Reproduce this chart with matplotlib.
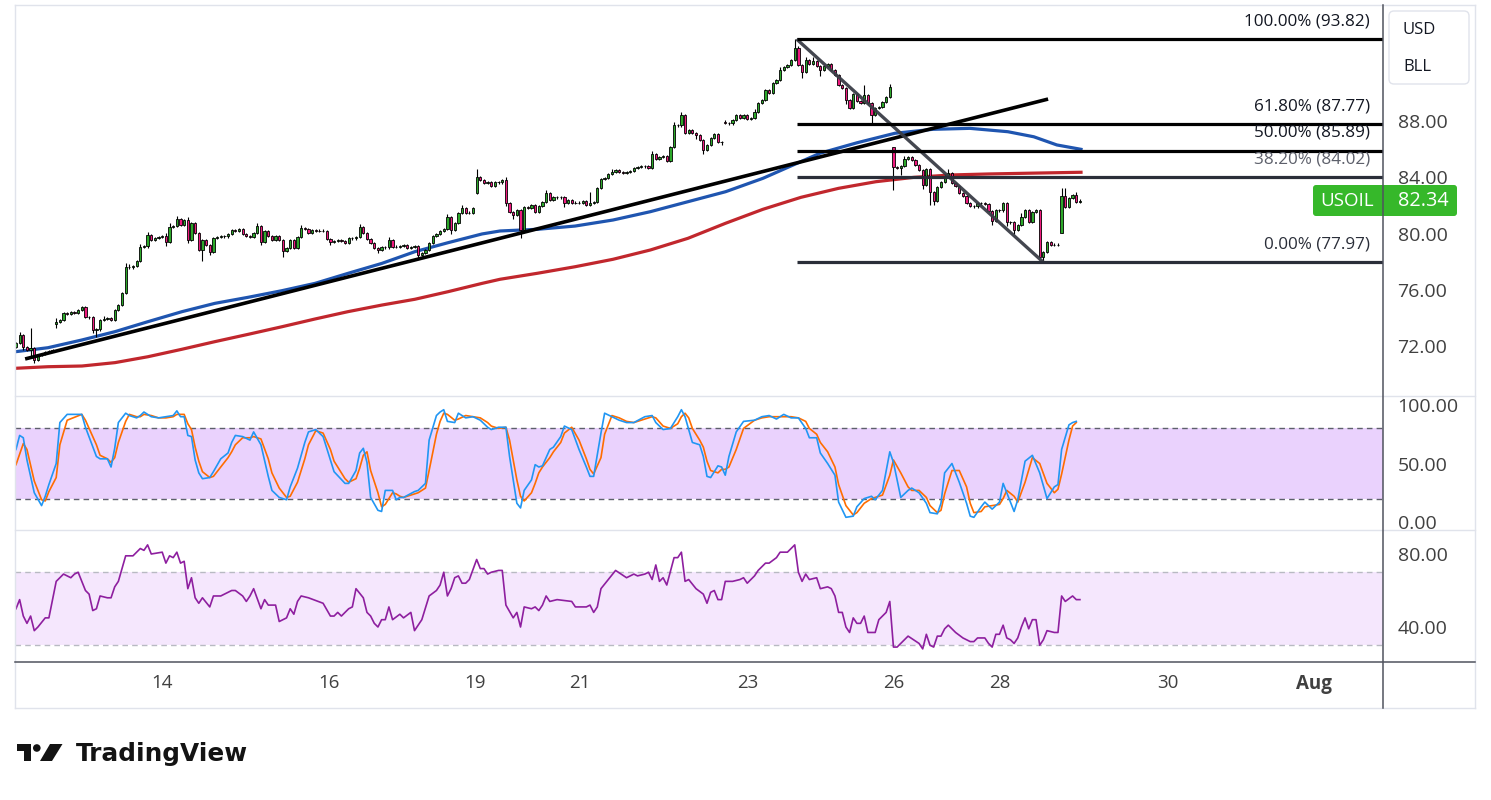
import matplotlib
matplotlib.use("Agg")
import matplotlib.pyplot as plt
from matplotlib.patches import FancyBboxPatch, Rectangle, Circle, Polygon

plt.rcParams['font.family'] = ['Open Sans', 'DejaVu Sans']

W, H = 1491, 800

# USOIL hourly closes, bar 0 .. 291
closes = [
    72.23, 72.80, 71.95, 71.74, 71.88, 71.03, 71.38, 71.45, 71.60, 71.67,
    71.74, 73.73, 73.87, 74.37, 74.30, 74.44, 74.37, 74.58, 74.79, 74.08,
    74.05, 73.16, 73.20, 73.87, 73.94, 74.01, 73.87, 74.58, 74.93, 75.79,
    77.63, 77.60, 77.70, 78.06, 79.05, 79.10, 79.90, 79.55, 79.69, 79.76,
    79.83, 79.41, 80.47, 80.54, 81.04, 80.61, 80.97, 79.55, 80.76, 80.05,
    78.84, 79.55, 79.19, 78.70, 79.69, 79.76, 79.83, 79.80, 79.98, 80.26,
    80.22, 80.33, 79.98, 79.83, 79.76, 80.05, 80.54, 79.41, 80.19, 79.83,
    79.55, 79.83, 79.55, 78.77, 78.98, 79.55, 78.98, 79.76, 80.40, 80.33,
    80.05, 80.26, 80.19, 80.22, 80.19, 79.62, 79.41, 79.48, 79.55, 79.48,
    79.34, 79.69, 79.66, 79.76, 80.47, 80.05, 79.62, 79.34, 78.98, 78.84,
    79.05, 79.02, 79.55, 79.05, 79.08, 79.12, 79.19, 78.98, 79.05, 79.12,
    78.48, 78.63, 78.84, 79.34, 79.83, 79.98, 80.19, 80.33, 81.18, 80.26,
    80.76, 81.47, 81.82, 81.47, 81.50, 81.82, 84.02, 83.81, 83.60, 83.67,
    83.38, 83.67, 83.64, 83.81, 82.18, 81.54, 81.32, 81.68, 80.26, 81.89,
    81.82, 82.03, 81.54, 81.96, 82.25, 82.89, 82.39, 82.60, 82.57, 82.60,
    82.18, 82.39, 82.18, 82.20, 82.18, 82.32, 82.03, 82.18, 82.25, 83.24,
    83.88, 83.95, 84.24, 84.38, 84.52, 84.38, 84.31, 84.38, 84.45, 84.66,
    84.73, 84.80, 84.77, 84.66, 85.66, 85.30, 85.44, 85.52, 85.16, 86.15,
    87.72, 87.70, 88.43, 87.15, 87.36, 87.15, 87.01, 86.65, 85.94, 86.30,
    86.79, 87.08, 86.51, 86.50, 87.86, 87.84, 88.07, 88.43, 88.21, 88.43,
    88.14, 88.21, 88.64, 89.28, 89.49, 90.20, 89.99, 90.70, 90.91, 91.62,
    91.84, 91.98, 92.33, 93.22, 91.98, 91.48, 92.33, 92.05, 92.26, 91.91,
    91.62, 91.91, 92.05, 91.62, 91.27, 90.56, 90.34, 89.49, 88.92, 89.92,
    89.42, 89.28, 89.85, 89.28, 88.43, 88.92, 88.99, 89.35, 89.71, 90.42,
    84.73, 84.66, 84.80, 85.30, 85.45, 85.23, 84.88, 84.52, 83.46, 84.59,
    82.96, 82.32, 83.31, 83.67, 84.02, 84.31, 83.60, 83.38, 82.89, 82.67,
    82.18, 81.96, 81.93, 82.18, 82.15, 82.11, 81.61, 80.90, 81.68, 81.65,
    82.18, 80.83, 80.80, 80.26, 80.61, 81.18, 81.68, 80.83, 81.54, 81.68,
    78.37, 78.70, 79.41, 79.19, 79.22, 79.19, 82.67, 81.89, 82.53, 82.75,
    82.25, 82.34,
]
first_open = 71.95
# bars that opened away from the previous close (session gaps)
gap_open = {11: 73.60, 126: 82.89, 194: 87.90, 240: 86.15, 286: 80.05}

# wick beyond the body, in tenths of a dollar
wick_up = [
    1, 2, 1, 1, 14, 1, 1, 1, 1, 1, 1, 3, 1, 1, 1, 1, 1, 1, 1, 1,
    1, 1, 1, 1, 2, 1, 1, 1, 1, 1, 3, 2, 1, 1, 2, 1, 2, 1, 1, 1,
    1, 2, 3, 1, 2, 1, 1, 2, 1, 1, 1, 1, 1, 1, 1, 1, 1, 1, 1, 1,
    1, 1, 1, 1, 1, 1, 2, 1, 1, 1, 1, 1, 1, 1, 1, 1, 1, 1, 2, 1,
    1, 1, 1, 1, 1, 1, 1, 1, 1, 1, 1, 1, 1, 1, 2, 1, 1, 1, 1, 1,
    1, 1, 2, 1, 1, 1, 1, 1, 1, 1, 1, 1, 1, 1, 1, 1, 1, 1, 2, 1,
    1, 1, 2, 1, 1, 1, 6, 1, 1, 1, 1, 1, 1, 1, 2, 1, 1, 1, 1, 1,
    1, 1, 1, 1, 1, 2, 1, 1, 1, 1, 1, 1, 1, 1, 1, 1, 1, 8, 1, 1,
    1, 1, 1, 2, 1, 1, 1, 1, 1, 1, 1, 1, 1, 1, 2, 1, 1, 1, 1, 1,
    2, 1, 2, 1, 1, 1, 1, 1, 1, 1, 1, 1, 1, 1, 2, 1, 1, 1, 1, 1,
    1, 1, 2, 1, 1, 1, 1, 1, 1, 2, 1, 1, 1, 6, 1, 1, 2, 1, 3, 1,
    1, 1, 1, 1, 1, 1, 1, 1, 1, 1, 1, 1, 7, 1, 1, 1, 1, 1, 1, 2,
    0, 1, 1, 2, 1, 1, 1, 1, 1, 1, 1, 1, 1, 1, 2, 3, 1, 1, 1, 1,
    1, 1, 1, 1, 1, 1, 1, 1, 1, 1, 1, 1, 1, 1, 1, 3, 1, 1, 1, 1,
    1, 1, 1, 1, 1, 1, 6, 6, 1, 1, 2, 1,
]
wick_dn = [
    1, 1, 2, 1, 5, 2, 1, 1, 1, 1, 1, 3, 1, 1, 1, 1, 1, 1, 1, 1,
    1, 2, 5, 1, 1, 1, 1, 1, 1, 1, 1, 1, 1, 1, 1, 1, 1, 1, 1, 1,
    1, 3, 1, 1, 1, 1, 1, 2, 1, 1, 1, 8, 1, 2, 1, 1, 1, 1, 1, 1,
    1, 1, 1, 1, 1, 1, 1, 2, 1, 1, 1, 1, 1, 4, 1, 1, 1, 1, 1, 1,
    1, 1, 1, 1, 1, 1, 2, 1, 1, 1, 1, 1, 1, 1, 1, 1, 1, 1, 1, 2,
    1, 1, 1, 1, 1, 1, 1, 1, 1, 1, 3, 1, 1, 1, 1, 1, 1, 1, 1, 3,
    1, 1, 1, 1, 1, 1, 1, 1, 1, 1, 1, 1, 1, 1, 2, 1, 3, 1, 6, 1,
    1, 1, 1, 1, 1, 1, 1, 1, 1, 1, 3, 1, 1, 1, 1, 1, 1, 1, 1, 1,
    1, 1, 1, 1, 1, 1, 1, 1, 1, 1, 1, 1, 1, 1, 1, 1, 1, 1, 1, 1,
    1, 1, 1, 1, 1, 1, 3, 1, 3, 1, 1, 1, 1, 2, 1, 1, 1, 1, 1, 1,
    1, 1, 1, 1, 1, 1, 1, 1, 1, 1, 1, 1, 1, 1, 1, 4, 1, 1, 1, 1,
    4, 1, 1, 1, 1, 1, 1, 3, 1, 1, 1, 1, 1, 1, 6, 1, 1, 1, 1, 1,
    16, 1, 5, 1, 1, 1, 1, 1, 3, 1, 9, 3, 1, 1, 1, 1, 1, 1, 1, 1,
    1, 1, 1, 1, 1, 1, 1, 3, 1, 1, 1, 3, 1, 3, 1, 1, 1, 1, 1, 1,
    0, 4, 1, 1, 1, 1, 0, 1, 1, 1, 1, 1,
]

# moving averages (blue fast, red slow)
ma_bar = [0, 8.75, 18.05, 27.08, 36.1, 45.4, 54.4, 63.5, 72.75, 81.8, 90.8,
          100.1, 109.1, 118.2, 127.5, 132.4, 142.7, 152.9, 163.3, 173.5,
          183.8, 194.1, 204.3, 212.6, 219.9, 230.1, 240.4, 250.7, 260.9,
          271.3, 278.4, 284.7, 291.3]
ma_fast = [71.62, 71.90, 72.45, 73.04, 73.75, 74.46, 75.05, 75.48, 75.95,
           76.47, 77.18, 77.89, 78.72, 79.36, 79.98, 80.19, 80.31, 80.54,
           80.97, 81.56, 82.27, 82.98, 83.93, 84.88, 85.71, 86.46, 87.13,
           87.41, 87.48, 87.24, 86.88, 86.30, 85.99]
ma_slow_bar = [0, 8.75, 18.05, 27.08, 36.1, 45.4, 54.4, 63.5, 72.75, 81.8,
               90.8, 100.1, 109.1, 118.2, 127.5, 132.4, 142.7, 152.9, 163.3,
               173.5, 183.8, 194.1, 204.3, 214.7, 225.0, 235.2, 245.6, 255.9,
               266.1, 276.4, 291.3]
ma_slow = [70.44, 70.55, 70.60, 70.84, 71.26, 71.79, 72.33, 72.85, 73.39,
           73.94, 74.46, 74.93, 75.34, 75.88, 76.47, 76.76, 77.19, 77.65,
           78.18, 78.84, 79.67, 80.74, 81.73, 82.58, 83.22, 83.69, 84.00,
           84.17, 84.24, 84.29, 84.36]

# drawn trend lines (bar, price)
trend_up_bar = [2.5, 282.3]
trend_up_px = [71.10, 89.56]
trend_dn_bar = [213.5, 281.0]
trend_dn_px = [93.82, 77.97]

# fibonacci retracement
fib_start = 213.5
fib_pct = [100.0, 61.8, 50.0, 38.2, 0.0]
fib_price = [93.82, 87.77, 85.89, 84.02, 77.97]

last_price = 82.34

# stochastic %K / %D
st_bar = [0, 1, 2, 3, 5, 7, 8, 9, 11, 12,
          14, 18, 19, 22, 23, 25, 26, 27, 28, 30,
          31, 33, 34, 35, 37, 39, 41, 43, 44, 45,
          46, 47, 48, 49, 50, 51, 53, 54, 56, 58,
          59, 60, 62, 64, 65, 67, 69, 70, 72, 74,
          75, 77, 79, 80, 82, 84, 86, 87, 90, 91,
          93, 94, 95, 96, 97, 99, 100, 101, 103, 104,
          105, 106, 109, 110, 112, 113, 115, 116, 117, 118,
          120, 121, 123, 125, 127, 129, 130, 132, 134, 135,
          137, 138, 139, 141, 142, 143, 144, 146, 147, 149,
          150, 152, 154, 156, 157, 158, 160, 161, 163, 165,
          167, 169, 172, 174, 175, 177, 179, 181, 182, 183,
          184, 185, 187, 188, 189, 190, 192, 193, 194, 195,
          197, 199, 202, 204, 206, 208, 210, 212, 214, 216,
          217, 219, 220, 222, 224, 225, 227, 229, 230, 232, 234,
          235, 237, 239, 240, 242, 244, 245, 247, 249, 250,
          252, 253, 254, 256, 258, 260, 261, 262, 264, 265,
          267, 269, 270, 271, 273, 274, 276, 278, 280, 282,
          284, 285, 286, 288, 289, 290]
st_k = [62, 74, 72, 53, 25, 14, 22, 32, 50, 85,
        92, 92, 81, 56, 54, 54, 47, 63, 85, 93,
        91, 89, 91, 94, 90, 89, 90, 91, 95, 90,
        90, 74, 73, 53, 42, 37, 38, 43, 54, 59,
        68, 74, 73, 70, 77, 66, 39, 27, 21, 19,
        30, 46, 68, 77, 79, 73, 53, 43, 33, 33,
        44, 59, 63, 51, 21, 10, 9, 27, 27, 19,
        21, 21, 26, 27, 33, 70, 91, 94, 96, 86,
        85, 93, 89, 90, 87, 81, 79, 81, 81, 56,
        16, 12, 27, 36, 49, 47, 48, 62, 64, 73,
        82, 79, 62, 47, 39, 39, 76, 93, 90, 87,
        85, 85, 90, 91, 85, 79, 80, 90, 96, 90,
        79, 68, 66, 56, 39, 38, 48, 47, 40, 56,
        77, 86, 87, 90, 91, 88, 92, 89, 89, 80,
        72, 72, 59, 50, 40, 17, 4, 5, 13, 20, 22,
        19, 27, 60, 51, 21, 27, 29, 25, 16, 8,
        7, 16, 42, 50, 34, 16, 5, 4, 13, 17,
        11, 17, 33, 25, 9, 19, 52, 57, 42, 20,
        30, 32, 62, 83, 85, 86]
st_d = [49, 58, 67, 62, 35, 19, 18, 26, 38, 66,
        87, 92, 87, 66, 57, 54, 51, 55, 68, 86,
        92, 90, 90, 92, 91, 89, 89, 90, 92, 92,
        92, 84, 79, 64, 52, 43, 38, 39, 47, 55,
        60, 66, 72, 72, 73, 71, 54, 42, 29, 21,
        22, 34, 54, 66, 78, 76, 62, 52, 37, 34,
        37, 46, 57, 60, 44, 25, 13, 15, 25, 24,
        22, 21, 24, 25, 29, 44, 75, 86, 93, 92,
        87, 88, 91, 90, 89, 85, 82, 80, 81, 70,
        36, 22, 18, 25, 33, 42, 47, 55, 60, 68,
        76, 81, 70, 54, 45, 41, 55, 75, 91, 89,
        86, 85, 88, 90, 89, 82, 80, 84, 90, 93,
        89, 80, 70, 64, 52, 44, 42, 45, 45, 47,
        62, 80, 87, 89, 90, 90, 90, 90, 89, 86,
        80, 75, 68, 60, 47, 32, 14, 6, 8, 16, 20,
        21, 23, 40, 53, 42, 30, 27, 27, 21, 14,
        8, 10, 24, 44, 44, 30, 16, 8, 9, 13,
        14, 15, 20, 27, 22, 17, 34, 55, 50, 33,
        25, 28, 41, 70, 82, 85]

# RSI
rsi_bar = [0, 1, 2, 3, 4, 5, 6, 8, 9, 11, 12, 13, 15, 16, 17, 19, 20, 21, 22,
           23, 25, 26, 27, 28, 29, 30, 32, 33, 34, 35, 36, 37, 40, 41, 42, 43,
           44, 45, 46, 47, 48, 49, 50, 51, 53, 54, 56, 59, 60, 62, 63, 64, 65,
           67, 68, 69, 71, 72, 74, 75, 76, 77, 78, 80, 84, 86, 87, 88, 89, 91,
           92, 93, 95, 96, 97, 98, 99, 100, 101, 102, 103, 105, 106, 108, 109,
           111, 113, 115, 116, 117, 118, 119, 120, 121, 122, 123, 124, 126,
           127, 128, 129, 130, 132, 133, 134, 136, 137, 138, 139, 141, 142,
           143, 144, 145, 146, 148, 152, 153, 156, 157, 158, 159, 160, 162,
           164, 167, 169, 170, 172, 173, 174, 175, 176, 177, 178, 180, 181,
           182, 183, 184, 186, 188, 189, 190, 191, 192, 193, 194, 196, 198,
           199, 200, 202, 203, 205, 206, 208, 209, 211, 212, 213, 214, 215,
           216, 217, 219, 220, 222, 223, 224, 225, 226, 227, 228, 229, 230,
           231, 232, 233, 235, 236, 238, 239, 240, 241, 243, 244, 247, 248,
           249, 250, 251, 252, 253, 254, 255, 257, 259, 261, 262, 263, 265,
           266, 267, 268, 269, 270, 271, 272, 273, 274, 275, 276, 277, 278,
           279, 280, 281, 282, 284, 285, 286, 287, 289, 290, 291]
rsi_val = [50, 55, 46, 42, 46, 38, 40, 45, 45, 65, 67, 69, 67, 69, 70, 60, 58,
           49, 50, 57, 56, 56, 62, 65, 72, 79, 79, 81, 83, 82, 85, 80, 81, 75,
           79, 78, 81, 75, 76, 61, 67, 56, 53, 56, 51, 57, 57, 60, 60, 57, 54,
           57, 61, 50, 55, 52, 52, 43, 45, 50, 47, 54, 57, 56, 53, 46, 46, 48,
           46, 50, 51, 61, 56, 48, 46, 42, 40, 44, 44, 51, 44, 47, 45, 48, 38,
           44, 57, 60, 63, 70, 57, 61, 67, 68, 64, 64, 66, 77, 72, 72, 69, 70,
           71, 71, 52, 45, 48, 40, 51, 50, 51, 49, 52, 57, 54, 55, 54, 51, 51,
           52, 48, 51, 61, 66, 71, 67, 69, 68, 69, 70, 66, 74, 65, 67, 63, 78,
           78, 81, 65, 66, 61, 58, 53, 59, 60, 55, 55, 65, 65, 66, 67, 64, 68,
           71, 75, 75, 78, 81, 81, 83, 85, 70, 65, 69, 66, 67, 61, 62, 61, 57,
           48, 48, 40, 37, 45, 42, 42, 46, 37, 37, 44, 48, 54, 29, 29, 33, 35,
           31, 28, 36, 30, 29, 35, 35, 39, 41, 37, 34, 32, 32, 34, 34, 31, 29,
           36, 36, 41, 34, 33, 31, 34, 40, 45, 39, 44, 44, 30, 33, 38, 37, 37,
           57, 54, 57, 55, 55]

# day boundaries on the time axis (bar position)
day_bar = [39.85, 85.6, 125.5, 154.1, 200.1, 240.1, 269.0, 315.1, 355.0]
day_lbl = ['14', '16', '19', '21', '23', '26', '28', '30', 'Aug']

UP, DOWN = '#2ca82a', '#ee1a7d'
TXT = '#404040'


def fy(y):
    return 1 - y / H


fig = plt.figure(figsize=(W / 100, H / 100), dpi=100)
x0, x1 = 15, 1383
wfrac = (x1 - x0) / W
ax = fig.add_axes([x0 / W, fy(396), wfrac, (396 - 5) / H])
ax_st = fig.add_axes([x0 / W, fy(530), wfrac, (530 - 396) / H], sharex=ax)
ax_rsi = fig.add_axes([x0 / W, fy(662), wfrac, (662 - 530) / H], sharex=ax)

for a in (ax, ax_st, ax_rsi):
    for s in a.spines.values():
        s.set_visible(False)
    a.yaxis.tick_right()
    a.tick_params(axis='y', length=0, pad=10.5, labelsize=14, labelcolor=TXT)
    a.tick_params(axis='x', length=0)
ax.tick_params(labelbottom=False)
ax_st.tick_params(labelbottom=False)
ax.set_xlim(-0.27, 373.9)

# ---- price pane ----
n = len(closes)
opens = []
for i in range(n):
    if i in gap_open:
        opens.append(gap_open[i])
    elif i == 0:
        opens.append(first_open)
    else:
        opens.append(closes[i - 1])

bars = list(range(n))
highs = [max(o, c) + u / 10 for o, c, u in zip(opens, closes, wick_up)]
lows = [min(o, c) - d / 10 for o, c, d in zip(opens, closes, wick_dn)]
ax.vlines(bars, lows, highs, color='black', lw=0.8, zorder=3)
bottoms = [min(o, c) for o, c in zip(opens, closes)]
heights = [max(abs(c - o), 0.03) for o, c in zip(opens, closes)]
colors = [UP if c >= o else DOWN for o, c in zip(opens, closes)]
ax.bar(bars, heights, bottom=bottoms, width=0.62, color=colors,
       edgecolor='black', linewidth=0.6, zorder=4)

ax.plot(ma_slow_bar, ma_slow, color='#c1272d', lw=2.3, zorder=2,
        solid_joinstyle='round')
ax.plot(ma_bar, ma_fast, color='#1f55b0', lw=2.3, zorder=2,
        solid_joinstyle='round')
ax.plot(trend_up_bar, trend_up_px, color='black', lw=2.6, zorder=5,
        solid_capstyle='butt')
ax.plot(trend_dn_bar, trend_dn_px, color='#3a3d46', lw=2.4, alpha=0.95,
        zorder=5, solid_capstyle='butt')

xmax = ax.get_xlim()[1]
fib_col = ['black', 'black', 'black', '#2a2e39', '#2a2e39']
lbl_col = ['#131722', '#131722', '#131722', '#5d606b', '#2a2e39']
for pct, price, lc, tc in zip(fib_pct, fib_price, fib_col, lbl_col):
    ax.plot([fib_start, xmax], [price, price], color=lc, lw=2.3, zorder=6,
            solid_capstyle='butt')
    ax.annotate(f'{pct:.2f}% ({price:.2f})', xy=(370.3, price),
                xytext=(0, 13), textcoords='offset points', ha='right',
                va='center', fontsize=12.3, color=tc, zorder=7)

ax.set_ylim(68.47, 96.24)
ax.set_yticks([72, 76, 80, 84, 88])
ax.set_yticklabels([f'{v:.2f}' for v in [72, 76, 80, 84, 88]])

# ---- stochastic pane ----
ax_st.axhspan(20, 80, color='#ead2fd', lw=0, zorder=0)
for lv in (80, 20):
    ax_st.axhline(lv, color='#5d606b', lw=1.0, ls=(0, (4, 3)), zorder=1)
ax_st.plot(st_bar, st_d, color='#ff6d00', lw=1.2, zorder=3)
ax_st.plot(st_bar, st_k, color='#2196f3', lw=1.2, zorder=4)
ax_st.set_ylim(-6.84, 107.7)
ax_st.set_yticks([0, 50, 100])
ax_st.set_yticklabels(['0.00', '50.00', '100.00'])

# ---- RSI pane ----
ax_rsi.axhspan(30, 70, color='#f5e7fd', lw=0, zorder=0)
for lv in (70, 30):
    ax_rsi.axhline(lv, color='#b8bac2', lw=1.0, ls=(0, (4, 3)), zorder=1)
ax_rsi.plot(rsi_bar, rsi_val, color='#8e1f9f', lw=1.2, zorder=3)
ax_rsi.set_ylim(20.82, 93.15)
ax_rsi.set_yticks([40, 80])
ax_rsi.set_yticklabels(['40.00', '80.00'])

ax_rsi.set_xticks(day_bar)
ax_rsi.set_xticklabels(day_lbl)
ax_rsi.tick_params(axis='x', pad=9, labelsize=13.5, labelcolor=TXT)
ax_rsi.get_xticklabels()[-1].set_fontweight('bold')

# ---- frame, labels and logo in pixel space ----
ov = fig.add_axes([0, 0, 1, 1])
ov.set_xlim(0, W)
ov.set_ylim(H, 0)
ov.axis('off')

grid = '#e0e3eb'
ov.plot([15, 1475], [5, 5], color=grid, lw=1)
ov.plot([15, 1475], [708, 708], color=grid, lw=1)
ov.plot([15, 15], [5, 708], color=grid, lw=1)
ov.plot([1475, 1475], [5, 708], color=grid, lw=1)
ov.plot([15, 1475], [396, 396], color=grid, lw=1)
ov.plot([15, 1475], [530, 530], color=grid, lw=1)
ov.plot([15, 1475], [662, 662], color='#50535e', lw=1.1)

ov.add_patch(FancyBboxPatch((1313, 185), 144, 31,
                            boxstyle='round,pad=0,rounding_size=3',
                            fc='#36b82a', ec='none', zorder=3))
ov.text(1347, 201, 'USOIL', color='white', fontsize=13.5, ha='center',
        va='center', zorder=4)
ov.text(1423, 201, f'{last_price:.2f}', color='white', fontsize=14.3,
        ha='center', va='center', zorder=4)
ov.plot([1383, 1383], [5, 708], color='#50535e', lw=1.1, zorder=5)

ov.add_patch(FancyBboxPatch((1389, 11), 80, 73,
                            boxstyle='round,pad=0,rounding_size=5',
                            fc='white', ec=grid, lw=1, zorder=3))
ov.text(1403, 30, 'USD', color='#131722', fontsize=12, va='center', zorder=4)
ov.text(1403, 67, 'BLL', color='#131722', fontsize=12, va='center', zorder=4)

logo = '#131313'
ov.add_patch(Rectangle((17, 744), 14, 7, fc=logo, ec='none'))
ov.add_patch(Rectangle((24, 744), 7, 17, fc=logo, ec='none'))
ov.add_patch(Circle((36.8, 748), 3.8, fc=logo, ec='none'))
ov.add_patch(Polygon([(50, 744), (62.5, 744), (52, 761), (40, 761)],
                     closed=True, fc=logo, ec='none'))
ov.text(76, 761.5, 'TradingView', color=logo, fontsize=17.8,
        fontweight='bold', family='DejaVu Sans', va='baseline')

fig.savefig('out.png', dpi=100)
